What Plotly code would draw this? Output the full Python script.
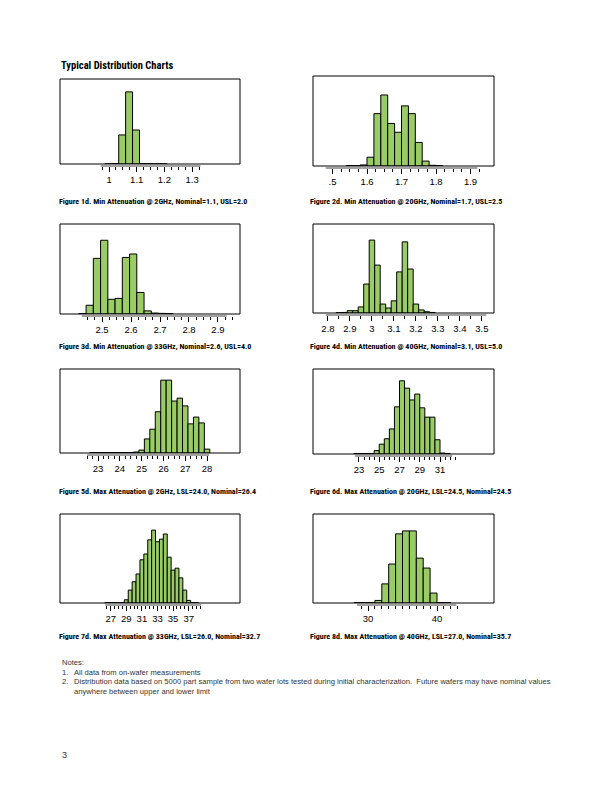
import numpy as np
import plotly.graph_objects as go

W, H = 612, 792
GREEN = "#99CC66"

# ---------------- data (percent of parts per bin) ----------------
c1_x = [0.9975, 1.0225, 1.0475, 1.0725, 1.0975, 1.1225, 1.1475, 1.1725, 1.1975]
c1_y = [0.1, 0.3, 21.2, 52.6, 24.8, 0.3, 0.2, 0.1, 0.1]
c1_ticks = [1.0, 1.1, 1.2, 1.3]
c1_labels = ["1", "1.1", "1.2", "1.3"]

c2_x = [1.55, 1.57, 1.59, 1.61, 1.63, 1.65, 1.67, 1.69, 1.71, 1.73, 1.75, 1.77, 1.79, 1.81]
c2_y = [0.1, 0.1, 0.3, 2.5, 14.9, 20.2, 12.1, 9.6, 17.1, 14.9, 6.7, 1.4, 0.2, 0.1]
c2_ticks = [1.5, 1.6, 1.7, 1.8, 1.9]
c2_labels = [".5", "1.6", "1.7", "1.8", "1.9"]

c3_x = [2.4325, 2.4575, 2.4825, 2.5075, 2.5325, 2.5575, 2.5825, 2.6075, 2.6325,
        2.6575, 2.6825, 2.7075, 2.7325]
c3_y = [0.15, 2.8, 17.8, 23.6, 4.7, 5.0, 18.1, 19.2, 6.9, 1.0, 0.3, 0.2, 0.15]
c3_ticks = [2.5, 2.6, 2.7, 2.8, 2.9]
c3_labels = ["2.5", "2.6", "2.7", "2.8", "2.9"]

c4_x = [2.85, 2.875, 2.9, 2.925, 2.95, 2.975, 3.0, 3.025, 3.05, 3.075, 3.1, 3.125,
        3.15, 3.175, 3.2, 3.225, 3.25, 3.275]
c4_y = [0.1, 0.15, 0.65, 0.65, 1.7, 8.1, 20.4, 13.4, 2.5, 1.4, 3.4, 11.5, 19.9,
        12.3, 2.5, 0.85, 0.35, 0.15]
c4_ticks = [2.8, 2.9, 3.0, 3.1, 3.2, 3.3, 3.4, 3.5]
c4_labels = ["2.8", "2.9", "3", "3.1", "3.2", "3.3", "3.4", "3.5"]

c5_x = [22.75, 23.0, 23.25, 23.5, 23.75, 24.0, 24.25, 24.5, 24.75, 25.0, 25.25, 25.5,
        25.75, 26.0, 26.25, 26.5, 26.75, 27.0, 27.25, 27.5, 27.75, 28.0]
c5_y = [0.1, 0.1, 0.1, 0.1, 0.1, 0.1, 0.1, 0.1, 0.2, 0.6, 2.9, 4.9, 8.5, 15.0, 15.0,
        10.7, 11.3, 9.7, 6.0, 7.4, 6.2, 0.8]
c5_ticks = [23, 24, 25, 26, 27, 28]
c5_labels = ["23", "24", "25", "26", "27", "28"]

c6_x = [22.75, 23.25, 23.75, 24.25, 24.75, 25.25, 25.75, 26.25, 26.75, 27.25, 27.75,
        28.25, 28.75, 29.25, 29.75, 30.25, 30.75, 31.25, 31.75]
c6_y = [0.1, 0.1, 0.1, 0.1, 0.7, 2.0, 3.1, 5.1, 9.6, 14.9, 13.4, 11.0, 12.2, 9.4,
        7.5, 7.5, 2.9, 0.2, 0.1]
c6_ticks = [23, 25, 27, 29, 31]
c6_labels = ["23", "25", "27", "29", "31"]

c7_x = [26.5, 27.0, 27.5, 28.0, 28.5, 29.0, 29.5, 30.0, 30.5, 31.0, 31.5, 32.0, 32.5,
        33.0, 33.5, 34.0, 34.5, 35.0, 35.5, 36.0, 36.5, 37.0, 37.5, 38.0]
c7_y = [0.05, 0.05, 0.05, 0.05, 0.05, 0.5, 2.0, 3.3, 4.5, 6.7, 7.6, 9.8, 11.3, 9.5,
        9.9, 10.7, 7.1, 5.1, 5.4, 3.9, 2.0, 0.4, 0.05, 0.05]
c7_ticks = [27, 29, 31, 33, 35, 37]
c7_labels = ["27", "29", "31", "33", "35", "37"]

c8_x = [28.5, 29.5, 30.5, 31.5, 32.5, 33.5, 34.5, 35.5, 36.5, 37.5, 38.5, 39.5, 40.5, 41.5]
c8_y = [0.1, 0.1, 0.1, 0.7, 5.2, 10.6, 18.8, 19.6, 19.6, 12.2, 9.5, 2.7, 0.1, 0.1]
c8_ticks = [30, 40]
c8_labels = ["30", "40"]

captions = [
    "Figure 1d. Min Attenuation @ 2GHz, Nominal=1.1, USL=2.0",
    "Figure 2d. Min Attenuation @ 20GHz, Nominal=1.7, USL=2.5",
    "Figure 3d. Min Attenuation @ 33GHz, Nominal=2.6, USL=4.0",
    "Figure 4d. Min Attenuation @ 40GHz, Nominal=3.1, USL=5.0",
    "Figure 5d. Max Attenuation @ 2GHz, LSL=24.0, Nominal=26.4",
    "Figure 6d. Max Attenuation @ 20GHz, LSL=24.5, Nominal=24.5",
    "Figure 7d. Max Attenuation @ 33GHz, LSL=26.0, Nominal=32.7",
    "Figure 8d. Max Attenuation @ 40GHz, LSL=27.0, Nominal=35.7",
]

# ---------------- layout specs (pixels) ----------------
specs = [
    dict(x=c1_x, y=c1_y, tv=c1_ticks, tt=c1_labels, w=0.025, box=(60, 240, 79, 164),
         xr=[0.823, 1.473], ymax=62.0, base=(0.97, 1.33), mstep=0.025),
    dict(x=c2_x, y=c2_y, tv=c2_ticks, tt=c2_labels, w=0.02, box=(313, 494, 76, 166),
         xr=[1.4435, 1.968], ymax=25.6, base=(1.48, 1.92), mstep=0.025),
    dict(x=c3_x, y=c3_y, tv=c3_ticks, tt=c3_labels, w=0.025, box=(60, 240, 224, 314),
         xr=[2.355, 2.976], ymax=28.8, base=(2.43, 2.93), mstep=0.025),
    dict(x=c4_x, y=c4_y, tv=c4_ticks, tt=c4_labels, w=0.025, box=(313, 494, 224, 313),
         xr=[2.732, 3.555], ymax=24.9, base=(2.79, 3.52), mstep=0.05),
    dict(x=c5_x, y=c5_y, tv=c5_ticks, tt=c5_labels, w=0.25, box=(60, 240, 369, 453),
         xr=[21.257, 29.51], ymax=17.3, base=(22.5, 28.1), mstep=0.25),
    dict(x=c6_x, y=c6_y, tv=c6_ticks, tt=c6_labels, w=0.5, box=(313, 494, 369, 454),
         xr=[18.46, 36.33], ymax=17.3, base=(22.6, 32.2), mstep=0.5),
    dict(x=c7_x, y=c7_y, tv=c7_ticks, tt=c7_labels, w=0.5, box=(60, 240, 514, 603),
         xr=[20.5, 43.58], ymax=13.8, base=(26.3, 38.6), mstep=0.5),
    dict(x=c8_x, y=c8_y, tv=c8_ticks, tt=c8_labels, w=1.0, box=(313, 494, 514, 603),
         xr=[22.03, 48.26], ymax=24.2, base=(28.4, 42.8), mstep=1.0),
]
cap_pos = [(57, 201), (308, 201), (57, 346), (308, 346),
           (57, 491), (308, 491), (57, 636), (308, 636)]

TICKFONT = dict(family="Liberation Sans, Arial, sans-serif", size=9.5, color="black")
CAPFONT = dict(family="Roboto Condensed, Lato, Liberation Sans, sans-serif",
               size=8.0, color="black")
NOTEFONT = dict(family="Liberation Sans, Arial, sans-serif", size=7.6, color="#333333")

fig = go.Figure()
lay = {}
shapes = []
annots = []

for i, s in enumerate(specs, start=1):
    sfx = "" if i == 1 else str(i)
    xa, ya = "x" + sfx, "y" + sfx
    L, R, T, B = s["box"]
    pos = (H - B - 2) / H
    fig.add_trace(go.Bar(
        x=s["x"], y=s["y"], width=s["w"], xaxis=xa, yaxis=ya,
        marker=dict(color=GREEN, line=dict(color="black", width=1)),
        showlegend=False, hoverinfo="skip"))
    mvals = [round(np.ceil(s["base"][0] / s["mstep"]) * s["mstep"] + k * s["mstep"], 6)
             for k in range(int((s["base"][1] - s["base"][0]) / s["mstep"]) + 1)]
    lay["xaxis" + sfx] = dict(
        domain=[L / W, R / W], range=s["xr"], anchor="free", position=pos,
        showline=False, showgrid=False, zeroline=False,
        ticks="outside", ticklen=5, tickwidth=1, tickcolor="black",
        tickmode="array", tickvals=s["tv"], ticktext=s["tt"], tickfont=TICKFONT,
        minor=dict(tickmode="array", tickvals=mvals, ticks="outside", ticklen=3,
                   tickwidth=1, tickcolor="black", showgrid=False),
        fixedrange=True)
    lay["yaxis" + sfx] = dict(
        domain=[(H - B) / H, (H - T) / H], range=[0, s["ymax"]], anchor="free",
        position=L / W, visible=False, fixedrange=True)
    shapes.append(dict(type="rect", xref=xa + " domain", yref=ya + " domain",
                       x0=0, x1=1, y0=0, y1=1, line=dict(color="black", width=1),
                       layer="above"))
    shapes.append(dict(type="line", xref=xa, yref="paper", x0=s["base"][0], x1=s["base"][1],
                       y0=pos, y1=pos, line=dict(color="#444444", width=1)))
    cx, cy = cap_pos[i - 1]
    annots.append(dict(text="<b>" + captions[i - 1] + "</b>", x=cx / W, y=(H - cy) / H,
                       xref="paper", yref="paper", xanchor="left", yanchor="middle",
                       showarrow=False, font=CAPFONT))

annots.append(dict(text="<b>Typical Distribution Charts</b>", x=59 / W, y=(H - 65) / H,
                   xref="paper", yref="paper", xanchor="left", yanchor="middle",
                   showarrow=False,
                   font=dict(family="Roboto Condensed, Lato, Liberation Sans, sans-serif",
                             size=10.5, color="black")))

notes = [
    (60, 662, "Notes:"),
    (60, 672, "1."),
    (72, 672, "All data from on-wafer measurements"),
    (60, 681, "2."),
    (72, 681, "Distribution data based on 5000 part sample from two wafer lots tested during initial characterization.  Future wafers may have nominal values"),
    (72, 691, "anywhere between upper and lower limit"),
]
for nx, ny, t in notes:
    annots.append(dict(text=t, x=nx / W, y=(H - ny) / H, xref="paper", yref="paper",
                       xanchor="left", yanchor="middle", showarrow=False, font=NOTEFONT))
annots.append(dict(text="3", x=60 / W, y=(H - 755) / H, xref="paper", yref="paper",
                   xanchor="left", yanchor="middle", showarrow=False,
                   font=dict(family="Liberation Sans, Arial, sans-serif", size=9, color="#333333")))

fig.update_layout(**lay)
fig.update_layout(width=W, height=H, margin=dict(l=0, r=0, t=0, b=0),
                  paper_bgcolor="white", plot_bgcolor="white",
                  shapes=shapes, annotations=annots, bargap=0, barmode="overlay")

fig.write_html("out.html", config={"displayModeBar": False, "staticPlot": True},
               post_script="document.body.style.margin='0';")
